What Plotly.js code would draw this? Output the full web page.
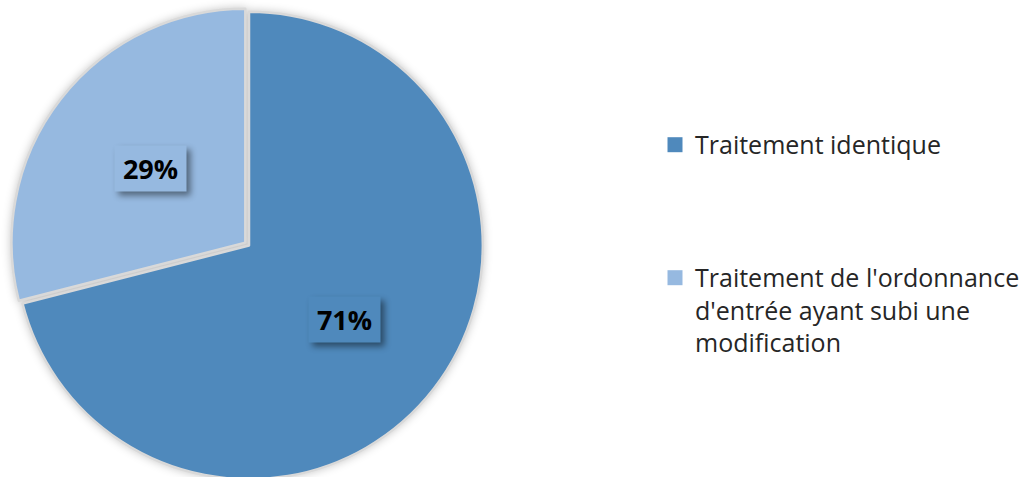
<!DOCTYPE html>
<html>
<head>
<meta charset="utf-8">
<script src="https://cdn.plot.ly/plotly-3.0.1.min.js"></script>
<style>
html,body{margin:0;padding:0;background:#fff;overflow:hidden;}
#chart{width:1032px;height:491px;}
</style>
</head>
<body>
<div id="chart"></div>
<script>
const labels = ["Traitement identique", "Traitement de l'ordonnance<br>d'entrée ayant subi une<br>modification"];
const legendLabels = ["Traitement identique<br> <br> <br> ", "Traitement de l'ordonnance<br>d'entrée ayant subi une<br>modification"];
const values = [71, 29];
const percentText = ["71%", "29%"];
const colors = ["#4F89BC", "#96B9E0"];
const pulls = [0, 0.02];

const W = 1032, H = 477, MT = 7;
const cxPx = 249;
const domainX = [0, 498 / W];
const rPx = (H / 2) / (1 + Math.max(...pulls));

// label annotations positioned at slice mid-angles
const total = values.reduce((a, b) => a + b, 0);
let cum = 0;
const annotations = values.map((v, i) => {
  const mid = (cum + v / 2) / total * 2 * Math.PI;
  cum += v;
  const k = 0.515 + pulls[i];
  const dx = k * rPx * Math.sin(mid);
  const dy = k * rPx * Math.cos(mid);
  return {
    xref: "paper", yref: "paper",
    x: cxPx / W + dx / W, y: 0.5 + dy / H,
    xanchor: "center", yanchor: "middle",
    text: "<b>" + percentText[i] + "</b>",
    showarrow: false,
    font: {family: "Open Sans", size: 27, color: "#000"},
    bgcolor: colors[i],
    width: 71, height: 45, borderpad: 0,
  };
});

const trace = {
  type: "pie",
  labels: legendLabels,
  values: values,
  sort: false,
  direction: "clockwise",
  rotation: 0,
  pull: pulls,
  textinfo: "none",
  hoverinfo: "label+percent",
  marker: {colors: colors, line: {color: "#D9D9D9", width: 2.5}},
  domain: {x: domainX, y: [0, 1]},
};

const layout = {
  width: 1032, height: 491,
  margin: {l: 0, r: 0, t: MT, b: 7},
  paper_bgcolor: "#fff",
  showlegend: true,
  legend: {
    x: 655 / W, xanchor: "left",
    y: 0.759, yanchor: "top",
    valign: "top",
    font: {family: "Open Sans", size: 25, color: "#262626"},
    bgcolor: "rgba(0,0,0,0)",
  },
  annotations: annotations,
};

Plotly.newPlot("chart", [trace], layout, {displayModeBar: false, staticPlot: true}).then(() => {
  document.querySelectorAll(".pielayer .trace").forEach(g => {
    g.style.filter = "drop-shadow(0px 0px 4px rgba(0,0,0,0.22))";
  });
  document.querySelectorAll(".annotation rect.bg").forEach(r => {
    r.style.filter = "drop-shadow(4px 4px 3px rgba(0,0,0,0.45))";
  });
  document.querySelectorAll(".legend .legendpoints path").forEach(p => {
    p.setAttribute("d", "M7.5,7.5H-7.5V-7.5H7.5Z");
    p.style.strokeWidth = "0px";
  });
});
</script>
</body>
</html>
